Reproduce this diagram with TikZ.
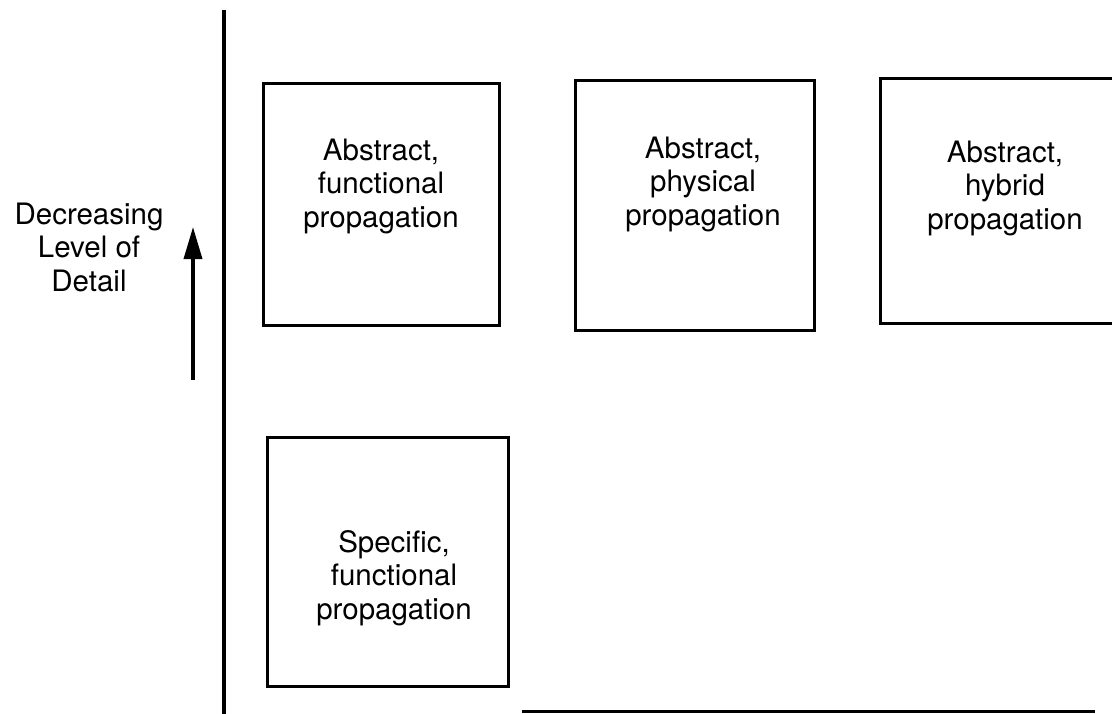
\documentclass[tikz,border=0pt]{standalone}
\usepackage{fontspec}
\setmainfont{TeX Gyre Heros}
\usetikzlibrary{arrows.meta}
\begin{document}
\begin{tikzpicture}[x=1pt,y=-1pt,
  box/.style={draw,line width=3pt,rectangle,inner sep=0pt},
  caption/.style={align=center,inner sep=0pt,font=\fontsize{29.5}{33.5}\selectfont},
  axis/.style={line width=3.5pt},
  uparrow/.style={line width=3.5pt,-{Triangle[length=32pt,width=18pt]}}]
\useasboundingbox (0,0) rectangle (1112,713);

% axes
\coordinate (vtop) at (224,10);
\coordinate (vbot) at (224,716);
\draw[axis] (vtop) -- (vbot);
\coordinate (hl) at (522,711);
\coordinate (hr) at (1095,711);
\draw[line width=3pt] (hl) -- (hr);

% level-of-detail label and arrow
\node[caption] (lod) at (89,247) {Decreasing\\Level of\\Detail};
\coordinate (abot) at (193,380);
\coordinate (atop) at (193,227);
\draw[uparrow] (abot) -- (atop);

% propagation boxes
\node[box,minimum width=236pt,minimum height=242pt] (b1) at (381,204) {};
\node[caption] (t1) at (381,186) {Abstract,\\functional\\propagation};

\node[box,minimum width=239pt,minimum height=250pt] (b2) at (694.5,205) {};
\node[caption] (t2) at (703,184) {Abstract,\\physical\\propagation};

\node[box,minimum width=250pt,minimum height=245pt] (b3) at (1005,200.5) {};
\node[caption] (t3) at (1005,188) {Abstract,\\hybrid\\propagation};

\node[box,minimum width=241pt,minimum height=249pt] (b4) at (387.5,561.5) {};
\node[caption] (t4) at (394,578) {Specific,\\functional\\propagation};
\end{tikzpicture}
\end{document}
